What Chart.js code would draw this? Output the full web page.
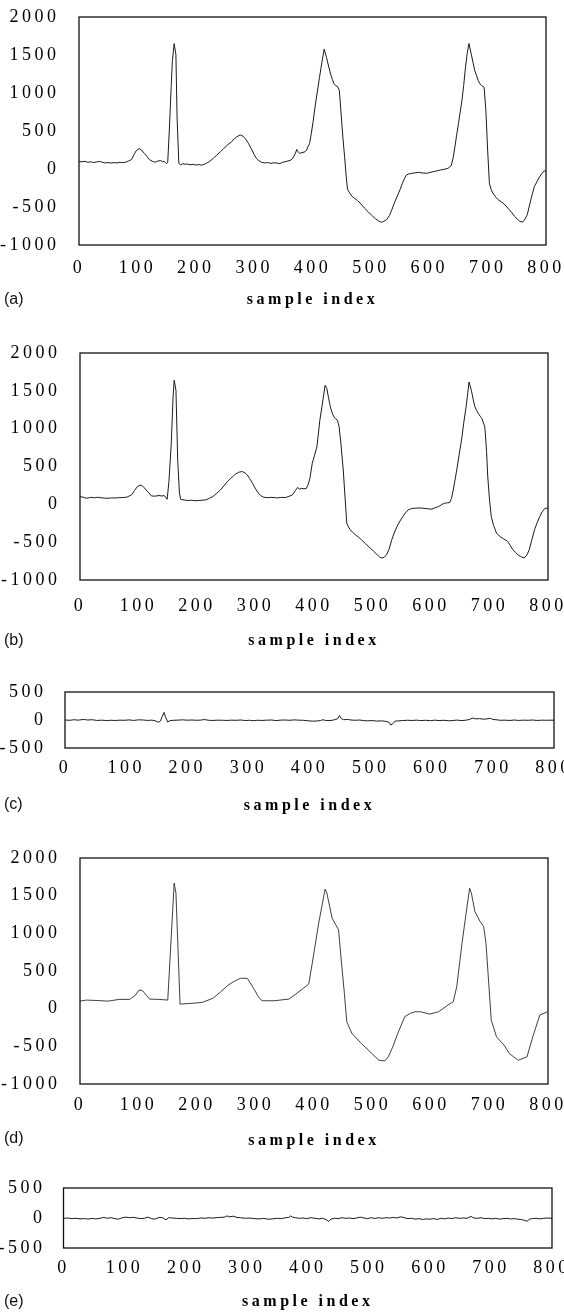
<!DOCTYPE html>
<html><head><meta charset="utf-8">
<script src="https://cdn.jsdelivr.net/npm/chart.js@4.4.0/dist/chart.umd.min.js"></script>
<style>
html,body{margin:0;padding:0;background:#fff;}
body{width:564px;height:1313px;position:relative;overflow:hidden;}
canvas{position:absolute;left:0;}
.lab{position:absolute;left:4px;font-family:'Liberation Sans',Arial,sans-serif;font-size:16px;color:#111;line-height:16px;}
</style></head><body>
<canvas id="ca" width="564" height="320" style="top:0px"></canvas>
<canvas id="cb" width="564" height="330" style="top:320px"></canvas>
<canvas id="cc" width="564" height="180" style="top:650px"></canvas>
<canvas id="cd" width="564" height="320" style="top:830px"></canvas>
<canvas id="ce" width="564" height="163" style="top:1150px"></canvas>
<div class="lab" style="top:291px">(a)</div>
<div class="lab" style="top:632px">(b)</div>
<div class="lab" style="top:796px">(c)</div>
<div class="lab" style="top:1130px">(d)</div>
<div class="lab" style="top:1293px">(e)</div>
<script>
// ---------- data ----------
const xTickValues = [0,100,200,300,400,500,600,700,800];
const yTicksLarge = [-1000,-500,0,500,1000,1500,2000];
const yTicksSmall = [-500,0,500];
const xTitle = 'sample index';

// (a) original signal
const aIdx = [0,5,10,15,20,25,30,35,40,45,50,55,60,65,70,75,80,85,90,95,98,103,107,112,116,121,126,131,135,140,143,146,150,152,155,158,160,163,166,168,171,174,178,182,186,190,195,200,205,210,214,218,223,230,236,242,248,255,261,266,270,274,277,281,285,290,295,300,304,308,313,318,323,329,334,339,344,348,353,358,363,367,369,371,373,375,378,382,387,390,392,395,398,401,404,408,412,416,420,424,428,431,434,437,440,443,446,449,452,455,458,460,464,468,472,477,483,489,495,502,508,514,518,522,527,532,536,540,545,550,554,558,561,565,570,576,582,588,595,600,607,613,619,625,632,635,638,641,644,647,650,653,656,659,662,665,668,672,675,678,681,684,687,690,694,697,700,703,706,709,714,718,723,728,733,737,742,746,751,755,760,764,768,771,774,777,780,785,789,793,797,800];
const aVal = [100,95,102,88,95,85,92,100,88,80,85,78,84,80,88,83,90,105,126,200,240,270,250,205,170,120,100,90,105,110,98,100,70,90,553,1100,1424,1650,1510,683,74,55,70,62,65,55,62,52,58,50,61,75,96,140,183,225,270,320,357,395,422,440,448,430,400,340,270,190,139,110,87,80,85,74,82,78,70,85,96,105,117,150,183,210,257,230,205,215,226,250,292,335,470,620,800,1000,1206,1400,1576,1467,1340,1249,1180,1119,1095,1084,1032,727,420,161,-120,-265,-320,-361,-385,-413,-460,-514,-560,-614,-655,-688,-700,-690,-666,-610,-535,-450,-361,-270,-187,-120,-78,-65,-57,-50,-44,-52,-57,-48,-35,-25,-13,-5,9,25,52,150,292,450,596,750,901,1100,1337,1520,1650,1511,1400,1293,1230,1162,1120,1097,1075,770,250,-187,-270,-318,-370,-405,-430,-457,-500,-535,-580,-622,-660,-688,-700,-660,-600,-500,-405,-320,-231,-160,-100,-60,-22,-35];

// (b) reconstructed signal
const bIdx = [0,5,11,16,20,25,30,36,42,48,54,60,66,73,80,88,93,98,104,108,113,118,122,128,135,140,144,149,152,156,159,161,164,167,170,172,176,180,184,190,196,203,209,215,221,227,233,240,246,252,257,261,266,271,275,278,282,286,290,295,300,305,309,314,320,326,332,338,344,351,357,363,368,372,375,379,383,387,390,393,397,401,405,410,413,416,419,422,425,428,431,434,437,440,443,446,450,453,456,459,462,466,471,476,481,488,496,502,508,512,516,520,524,528,533,537,542,547,552,556,561,567,573,580,586,593,601,607,613,618,623,628,632,635,638,641,644,648,653,656,660,663,665,669,672,675,678,681,684,687,692,695,697,700,703,707,712,717,722,727,731,736,740,745,749,753,759,764,768,772,777,781,786,790,795,800];
const bVal = [102,95,80,88,92,85,94,86,82,80,85,84,88,89,95,124,180,234,256,235,190,150,111,108,116,110,116,67,300,805,1400,1639,1507,585,150,67,60,55,50,55,48,50,55,58,80,102,140,190,245,300,340,366,400,423,430,432,415,388,340,278,205,146,115,94,88,92,89,85,92,89,105,124,180,224,200,211,205,211,260,344,541,650,761,1112,1260,1420,1573,1529,1400,1288,1210,1156,1130,1112,1024,800,454,100,-249,-300,-336,-370,-402,-435,-468,-520,-578,-620,-666,-695,-710,-700,-666,-600,-468,-380,-292,-220,-160,-115,-73,-55,-51,-48,-51,-58,-64,-45,-29,-5,15,20,24,80,190,320,454,650,893,1080,1288,1480,1617,1507,1390,1288,1240,1200,1165,1134,1024,700,366,60,-160,-280,-380,-420,-446,-470,-490,-550,-600,-640,-670,-688,-710,-670,-600,-480,-336,-250,-160,-100,-51,-51];

// (c) reconstruction error
const cIdx = [0,8,15,22,30,37,45,52,60,68,75,82,90,98,105,112,120,128,135,142,148,153,156,159,162,165,168,172,178,185,192,200,208,215,222,228,235,242,250,258,265,272,280,288,295,302,308,315,322,330,338,345,352,360,368,375,382,390,398,405,412,418,422,426,432,438,442,446,449,452,456,462,468,475,482,488,495,502,510,518,525,530,533,536,540,546,552,560,568,575,582,590,598,605,612,620,628,635,642,648,655,662,667,672,678,684,690,696,700,705,712,720,728,735,742,750,758,765,772,780,788,795,800];
const cVal = [0,-5,5,-3,10,0,5,-8,-3,-10,-5,-8,-3,-5,2,-8,3,0,-8,-2,-15,-40,-20,60,135,40,-35,-10,-5,-2,3,-3,0,-5,-2,8,-5,-8,-3,-5,-8,-3,-5,0,-10,-5,-12,-5,-8,-3,0,-10,-3,0,-5,2,-3,-5,-15,-20,-18,-10,5,-8,-10,-5,10,20,80,25,5,10,0,-5,0,-10,-15,-10,-20,-15,-25,-40,-90,-70,-20,-15,-10,-5,-8,-3,-10,-5,-12,-3,-10,-5,-15,-8,-2,-10,-5,10,35,20,25,15,20,30,10,5,-5,-3,-8,0,-8,-3,-5,0,-8,-3,-5,-3,-5];

// (d) compressed / approximated signal
const dIdx = [0,11,30,48,67,85,95,101,107,113,119,135,150,161,164,171,190,209,227,240,252,263,274,286,296,305,311,332,357,369,380,391,397,408,419,422,431,442,446,452,456,465,481,499,511,521,527,535,542,555,565,573,582,598,613,629,638,644,653,660,666,669,675,684,690,694,703,712,725,734,749,752,764,774,786,799];
const dVal = [100,114,108,100,123,123,180,248,239,180,127,123,114,1667,1534,61,70,83,137,220,305,360,403,403,280,158,105,105,127,194,260,327,602,1134,1587,1534,1201,1046,691,200,-174,-330,-463,-596,-685,-694,-640,-500,-352,-108,-60,-41,-41,-72,-41,48,92,291,868,1267,1600,1534,1290,1156,1090,868,-152,-374,-485,-596,-685,-676,-640,-374,-85,-41];

// (e) approximation error
const eIdx = [0,7,14,20,27,34,40,47,53,60,66,72,78,84,90,95,102,108,115,120,126,132,138,144,150,156,162,168,172,178,185,192,198,205,212,218,225,232,238,245,252,258,264,268,272,278,284,290,298,305,312,320,328,335,342,350,357,364,369,372,375,380,386,392,398,405,412,418,424,430,434,438,444,450,456,462,468,474,480,486,492,498,504,510,516,522,528,534,540,546,552,558,564,570,576,582,588,594,600,606,612,618,624,630,636,642,648,655,661,667,672,678,684,690,696,702,708,714,720,726,732,738,744,750,755,759,763,768,774,780,786,792,800];
const eVal = [-5,0,-10,-5,-15,-10,-18,-8,-15,-5,10,-5,5,-10,-20,0,15,5,10,0,-10,-5,15,-10,-20,10,5,-30,5,0,-5,-10,-5,-15,-8,-10,0,-5,5,-2,8,10,15,35,20,30,10,5,-5,0,-10,-15,-8,-20,-15,-5,-10,5,10,35,15,5,-5,0,-10,5,-5,-15,-5,-25,-55,-20,-5,-10,5,-5,0,-10,0,15,0,-10,5,-8,5,-5,5,0,10,0,20,5,-10,-5,-20,-10,-25,-15,-20,-10,-25,-5,-15,0,-10,5,-5,0,-5,28,0,-5,5,-10,-5,-15,-5,-20,-10,-5,-15,-10,-20,-25,-40,-55,-20,-10,-5,-15,-5,0,-5];

// ---------- drawing ----------
const SERIF = "'Liberation Serif','Times New Roman',serif";
const TICK_LS = '3.5px';
const TITLE_LS = '3.5px';
const spacingPlugin = {
  id: 'spacing',
  afterInit(c){ c.ctx.letterSpacing = TICK_LS; },
  beforeUpdate(c){ c.ctx.letterSpacing = TICK_LS; },
  beforeLayout(c){ c.ctx.letterSpacing = TICK_LS; },
  beforeDraw(c){ c.ctx.letterSpacing = TICK_LS; }
};
const boxPlugin = {
  id: 'box',
  afterDraw(c){
    const a = c.chartArea, ctx = c.ctx;
    ctx.save();
    ctx.strokeStyle = '#111';
    ctx.lineWidth = 1.3;
    ctx.strokeRect(a.left, a.top, a.right - a.left, a.bottom - a.top);
    ctx.restore();
  }
};

function toPoints(idx, val){ return idx.map((x,i)=>({x:x, y:val[i]})); }

function makePanel(cfg){
  const H = cfg.h;
  new Chart(document.getElementById(cfg.canvas), {
    type: 'line',
    data: { datasets: [{ data: toPoints(cfg.idx, cfg.val), borderColor: cfg.color || '#1a1a1a', borderWidth: cfg.lw || 1, pointRadius: 0, tension: 0, fill: false }] },
    options: {
      responsive: false, animation: false, devicePixelRatio: 1,
      events: [],
      layout: { padding: { left: 0, right: 564 - cfg.R, top: cfg.T, bottom: 0 } },
      plugins: { legend: { display: false }, tooltip: { enabled: false } },
      scales: {
        x: {
          type: 'linear', min: 0, max: 800,
          grid: { display: false, drawTicks: false },
          border: { display: false },
          afterBuildTicks(s){ s.ticks = xTickValues.map(v=>({value:v})); },
          afterFit(s){
            s.height = H - cfg.B; s.paddingLeft = 0; s.paddingRight = 0;
            if (!s._lsPatched) {
              const orig = s.drawTitle.bind(s);
              s.drawTitle = function(){ const ctx = this.ctx; const old = ctx.letterSpacing; ctx.letterSpacing = TITLE_LS; orig(); ctx.letterSpacing = old; };
              s._lsPatched = true;
            }
          },
          ticks: { color: '#000', font: { family: SERIF, size: 18 }, padding: cfg.xpad, maxRotation: 0, autoSkip: false, callback: v => String(v) },
          title: { display: true, text: xTitle, color: '#000', font: { family: SERIF, size: 16, weight: 'bold' }, padding: { top: 0, bottom: cfg.tpad } }
        },
        y: {
          min: cfg.yt[0], max: cfg.yt[cfg.yt.length-1],
          grid: { display: false, drawTicks: false },
          border: { display: false },
          afterBuildTicks(s){ s.ticks = cfg.yt.map(v=>({value:v})); },
          afterFit(s){ s.width = cfg.L; s.paddingTop = 0; s.paddingBottom = 0; },
          ticks: { color: '#000', font: { family: SERIF, size: 18 }, padding: cfg.ypad, callback: v => String(v) }
        }
      }
    },
    plugins: [spacingPlugin, boxPlugin]
  });
}

makePanel({canvas:'ca', idx:aIdx, val:aVal, yt:yTicksLarge, h:320, L:79, R:546, T:17, B:245, ypad:19.5, xpad:12.2, tpad:10.4});
makePanel({canvas:'cb', idx:bIdx, val:bVal, yt:yTicksLarge, h:330, L:80, R:548, T:33, B:260, ypad:19.5, xpad:15.2, tpad:0});
makePanel({canvas:'cc', idx:cIdx, val:cVal, yt:yTicksSmall, h:180, L:65, R:554, T:42, B:98, ypad:18.5, xpad:9.2, tpad:14.4});
makePanel({canvas:'cd', idx:dIdx, val:dVal, yt:yTicksLarge, h:320, L:80, R:548, T:28, B:254, ypad:19.5, xpad:10.2, tpad:0, color:'#2a2a2a', lw:0.9});
makePanel({canvas:'ce', idx:eIdx, val:eVal, yt:yTicksSmall, h:163, L:63.5, R:552, T:38, B:98, ypad:18, xpad:9.2, tpad:1.4});
</script>
</body></html>
